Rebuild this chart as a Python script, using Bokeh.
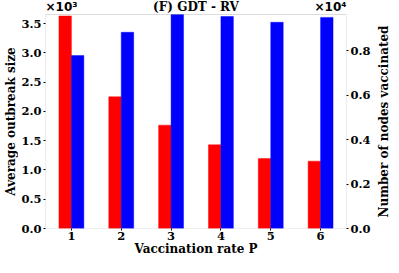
from bokeh.plotting import figure
from bokeh.layouts import row
from bokeh.models import (Range1d, LinearAxis, FixedTicker, Label, ColumnDataSource,
                          BoxAnnotation, CustomJSTickFormatter)
from bokeh.transform import dodge
from bokeh.embed import file_html
from bokeh.resources import INLINE

P = [1, 2, 3, 4, 5, 6]
outbreak = [3630, 2250, 1765, 1430, 1195, 1150]
vaccinated = [7780, 8830, 9630, 9540, 9280, 9500]
left_ticks = [0, 500, 1000, 1500, 2000, 2500, 3000, 3500]
right_ticks = [0, 2000, 4000, 6000, 8000]
left_max = 3655
right_max = 9630
x_lo, x_hi = 0.48, 6.52
title = "(F) GDT - RV"
xlabel = "Vaccination rate P"
ylabel_left = "Average outbreak size"
ylabel_right = "Number of nodes vaccinated"

SERIF = "DejaVu Serif"
GRAY = "#8a8a8a"
FRAME_W, FRAME_H, PAD = 301, 228, 14
LABEL_W = 15
ext = FRAME_H / (FRAME_H - PAD)

src = ColumnDataSource(dict(P=P, outbreak=outbreak, vaccinated=vaccinated))

p = figure(frame_width=FRAME_W, frame_height=FRAME_H, output_backend="svg", toolbar_location=None,
           x_range=Range1d(x_lo, x_hi), y_range=Range1d(0, left_max * ext),
           min_border=0, min_border_left=26, min_border_right=24)
p.extra_y_ranges = {"right": Range1d(0, right_max * ext)}

p.vbar(x=dodge("P", -0.125, range=p.x_range), top="outbreak", width=0.25, source=src,
       fill_color="#ff0000", line_color="#ff0000", line_alpha=0.45)
p.vbar(x=dodge("P", 0.125, range=p.x_range), top="vaccinated", width=0.25, source=src,
       y_range_name="right", fill_color="#0000ff", line_color="#0000ff", line_alpha=0.45)

p.xgrid.visible = False
p.ygrid.visible = False
p.outline_line_color = None
p.add_layout(BoxAnnotation(left=x_lo, right=x_hi, bottom=0, top=left_max,
                           fill_color=None, fill_alpha=0, line_color=GRAY, line_width=1.2,
                           level="overlay"))

right = LinearAxis(y_range_name="right")
p.add_layout(right, "right")

p.xaxis.ticker = FixedTicker(ticks=P)
p.xaxis.axis_label = xlabel
p.yaxis[0].ticker = FixedTicker(ticks=left_ticks)
p.yaxis[0].formatter = CustomJSTickFormatter(code="return (tick/1000).toFixed(1);")
right.ticker = FixedTicker(ticks=right_ticks)
right.formatter = CustomJSTickFormatter(code="return (tick/10000).toFixed(1);")

for ax in p.axis:
    ax.axis_line_color = None
    ax.major_tick_line_color = "black"
    ax.major_tick_out = 2
    ax.major_tick_in = 0
    ax.minor_tick_line_color = None
    ax.major_label_standoff = 2
    ax.major_label_text_font = SERIF
    ax.major_label_text_font_style = "bold"
    ax.major_label_text_font_size = "11.5px"
    ax.major_label_text_color = "black"
    ax.axis_label_text_font = SERIF
    ax.axis_label_text_font_style = "bold"
    ax.axis_label_text_font_size = "12px"
    ax.axis_label_text_color = "black"
    ax.axis_label_standoff = 0
p.xaxis.major_label_standoff = 1
p.xaxis.axis_label_standoff = -1

p.add_layout(Label(x=(x_lo + x_hi) / 2, y=left_max, text=title, text_font=SERIF,
                   text_font_style="bold", text_font_size="12px", text_color="black",
                   text_baseline="bottom", text_align="center", y_offset=1))
p.add_layout(Label(x=x_lo, y=left_max, text="×10³", text_font="DejaVu Sans",
                   text_font_style="bold", text_font_size="12px", text_color="black",
                   text_baseline="bottom", text_align="left", y_offset=1))
p.add_layout(Label(x=x_hi, y=right_max, y_range_name="right", text="×10⁴", text_font="DejaVu Sans",
                   text_font_style="bold", text_font_size="12px", text_color="black",
                   text_baseline="bottom", text_align="right", y_offset=1))


def label_strip(text):
    # invisible narrow plot whose frame is centred on the spine box of p
    f = figure(frame_width=1, frame_height=FRAME_H + PAD, output_backend="svg",
               toolbar_location=None, x_axis_location=None,
               min_border=0, min_border_left=LABEL_W,
               x_range=Range1d(0, 1), y_range=Range1d(0, 1))
    f.outline_line_color = None
    f.background_fill_color = None
    f.border_fill_color = None
    f.xgrid.visible = False
    f.ygrid.visible = False
    ax = f.yaxis[0]
    ax.ticker = FixedTicker(ticks=[])
    ax.axis_line_color = None
    ax.major_tick_line_color = None
    ax.minor_tick_line_color = None
    ax.major_label_text_font_size = "0px"
    ax.major_tick_out = 0
    ax.major_label_standoff = 0
    ax.axis_label = text
    ax.axis_label_standoff = 0
    ax.axis_label_text_font = SERIF
    ax.axis_label_text_font_style = "bold"
    ax.axis_label_text_font_size = "12px"
    ax.axis_label_text_color = "black"
    return f


layout = row(label_strip(ylabel_left), p, label_strip(ylabel_right), spacing=0)

open("out.html", "w").write(file_html(layout, INLINE))
